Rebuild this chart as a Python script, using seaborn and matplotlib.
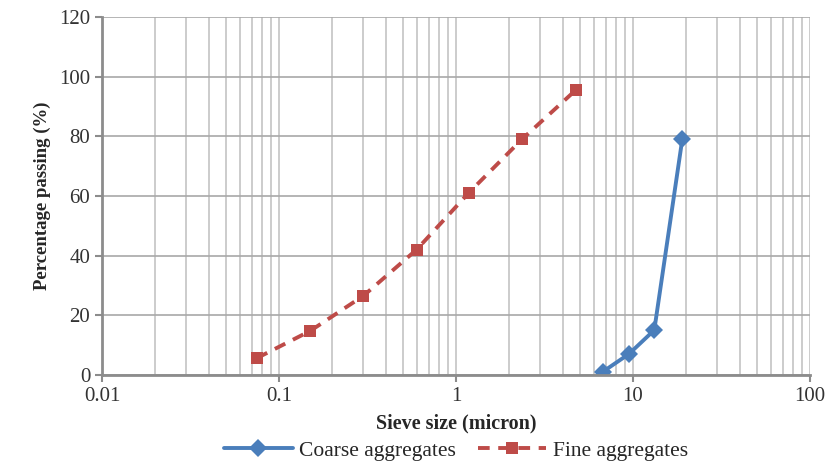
import numpy as np
import pandas as pd
import matplotlib
matplotlib.use('Agg')
import matplotlib.pyplot as plt
import seaborn as sns

# sieve data
coarse_size = [6.75, 9.5, 13.2, 19.0]
coarse_pass = [1.0, 7.0, 15.0, 79.0]
fine_size = [0.075, 0.15, 0.3, 0.6, 1.18, 2.36, 4.75]
fine_pass = [5.6, 14.7, 26.5, 42.0, 61.0, 79.0, 95.5]
series_names = ['Coarse aggregates', 'Fine aggregates']

df = pd.concat([
    pd.DataFrame({'size': coarse_size, 'passing': coarse_pass, 'series': series_names[0]}),
    pd.DataFrame({'size': fine_size, 'passing': fine_pass, 'series': series_names[1]}),
])

sns.set_style('white')
plt.rcParams['font.family'] = ['Liberation Serif', 'DejaVu Serif']

fig, ax = plt.subplots(figsize=(8.29, 4.61), dpi=100)
fig.subplots_adjust(left=0.123, right=0.977, top=0.963, bottom=0.187)

palette = {series_names[0]: '#4a7ebb', series_names[1]: '#be4b48'}
sns.lineplot(data=df, x='size', y='passing', hue='series', style='series',
             palette=palette, markers={series_names[0]: 'D', series_names[1]: 's'},
             dashes={series_names[0]: '', series_names[1]: (3, 2.2)},
             markersize=9, linewidth=2.8, markeredgewidth=0, ax=ax, sort=False)

ax.set_xscale('log')
ax.set_xlim(0.01, 100)
ax.set_ylim(0, 120)
ax.set_yticks(np.arange(0, 121, 20))
ax.set_xticks([0.01, 0.1, 1, 10, 100])
ax.set_xticklabels(['0.01', '0.1', '1', '10', '100'])

ax.grid(True, which='both', axis='x', color='#c4c4c4', linewidth=1.2)
ax.grid(True, which='major', axis='y', color='#a8a8a8', linewidth=1.2)
ax.set_axisbelow(True)

for side in ['top', 'right']:
    ax.spines[side].set_visible(False)
for side in ['left', 'bottom']:
    ax.spines[side].set_color('#8c8c8c')
    ax.spines[side].set_linewidth(2)

ax.tick_params(axis='both', which='major', length=5, color='#8c8c8c', width=1.5,
               labelsize=15, labelcolor='#333333', direction='out')
ax.tick_params(axis='x', which='minor', length=0)
ax.xaxis.set_ticks_position('bottom')
ax.yaxis.set_ticks_position('left')

ax.set_xlabel('Sieve size (micron)', fontsize=14.5, fontweight='bold', labelpad=6)
ax.set_ylabel('Percentage passing (%)', fontsize=13.5, fontweight='bold', labelpad=6)

ax.legend(loc='center', bbox_to_anchor=(0.5, -0.213), ncol=2, frameon=False,
          fontsize=15.5, handlelength=3.2, columnspacing=1.0, handletextpad=0.3,
          borderpad=0.1)

plt.savefig('out.png', dpi=100)
